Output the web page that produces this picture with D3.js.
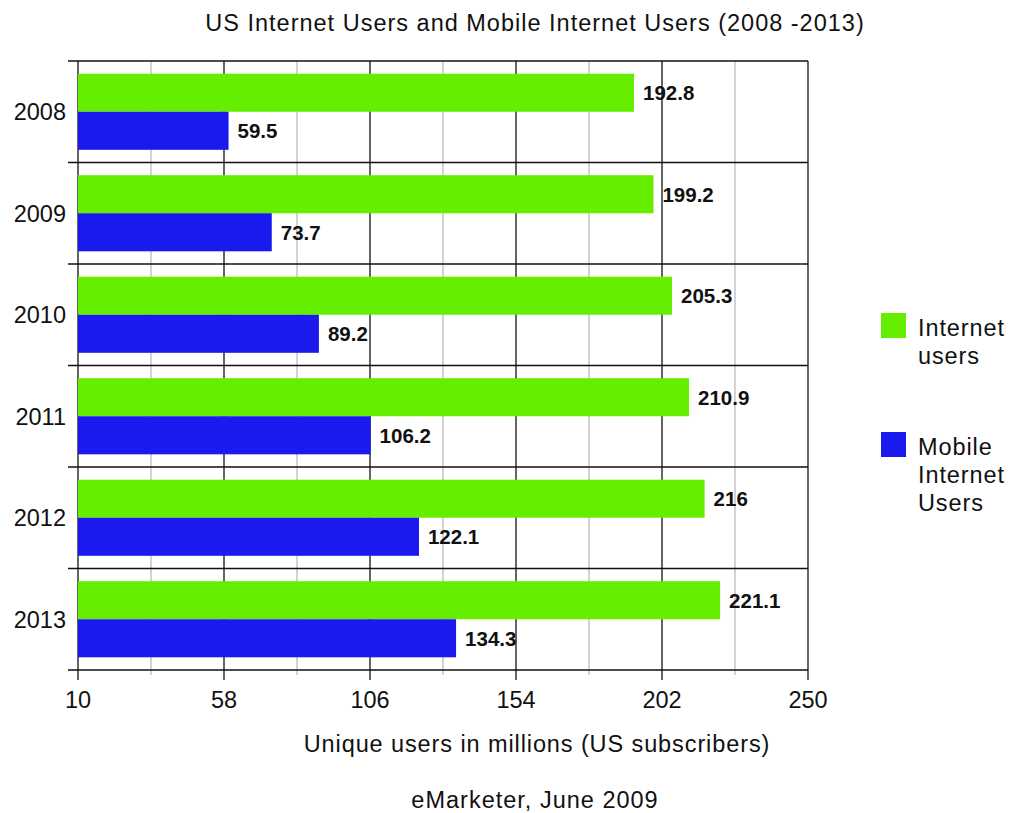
<!DOCTYPE html>
<html>
<head>
<meta charset="utf-8">
<script src="https://cdn.jsdelivr.net/npm/d3@7"></script>
<style>
  body { margin: 0; background: #fff; }
  text { font-family: "Liberation Sans", Arial, sans-serif; fill: #111; }
</style>
</head>
<body>
<div id="container"></div>
<script>
// data
let years = ["2008", "2009", "2010", "2011", "2012", "2013"];
let internetUsers = [192.8, 199.2, 205.3, 210.9, 216, 221.1];
let mobileUsers = [59.5, 73.7, 89.2, 106.2, 122.1, 134.3];
let majorTicks = [10, 58, 106, 154, 202, 250];
let minorTicks = [34, 82, 130, 178, 226];
let seriesNames = ["Internet users", "Mobile Internet Users"];
let seriesColors = ["#66ee00", "#1a1aee"];

let width = 1010, height = 813;
let plotLeft = 78, plotRight = 808, plotTop = 61, plotBottom = 670;

let svg = d3.select('#container')
    .append('svg')
    .attr("width", width)
    .attr("height", height);

let x = d3.scaleLinear().domain([10, 250]).range([plotLeft, plotRight]);
let y = d3.scaleBand().domain(years).range([plotTop, plotBottom]).paddingInner(0.25).paddingOuter(0.125);
let sub = d3.scaleBand().domain([0, 1]).range([0, y.bandwidth()]);

let rows = years.map((yr, i) => ({year: yr, values: [internetUsers[i], mobileUsers[i]]}));

// minor grid lines
svg.selectAll('.minor')
    .data(minorTicks)
    .enter()
    .append('line')
    .attr('x1', d => x(d)).attr('x2', d => x(d))
    .attr('y1', plotTop).attr('y2', plotBottom + 5)
    .attr('stroke', '#bbb')
    .attr('stroke-width', 1.3);

// major grid lines
svg.selectAll('.major')
    .data(majorTicks)
    .enter()
    .append('line')
    .attr('x1', d => x(d)).attr('x2', d => x(d))
    .attr('y1', plotTop).attr('y2', plotBottom + 10)
    .attr('stroke', '#111')
    .attr('stroke-width', 1.3);

// category separators
let step = y.step();
let seps = years.map(yr => y(yr) - y.paddingOuter() * step);
seps.push(plotBottom);
svg.selectAll('.sep')
    .data(seps)
    .enter()
    .append('line')
    .attr('x1', plotLeft - 10).attr('x2', plotRight)
    .attr('y1', d => d).attr('y2', d => d)
    .attr('stroke', '#111')
    .attr('stroke-width', 1.3);

// bars
let groups = svg.selectAll('.row')
    .data(rows)
    .enter()
    .append('g')
    .attr('transform', d => `translate(0,${y(d.year)})`);

groups.selectAll('rect')
    .data(d => d.values)
    .enter()
    .append('rect')
    .attr('x', x(10))
    .attr('y', (d, i) => sub(i))
    .attr('width', d => x(d) - x(10))
    .attr('height', sub.bandwidth())
    .attr('fill', (d, i) => seriesColors[i]);

groups.selectAll('.val')
    .data(d => d.values)
    .enter()
    .append('text')
    .attr('x', d => x(d) + 9)
    .attr('y', (d, i) => sub(i) + sub.bandwidth() / 2)
    .attr('dy', '0.36em')
    .attr('font-size', 20.5)
    .attr('font-weight', 'bold')
    .text(d => d);

// year labels
svg.selectAll('.yl')
    .data(years)
    .enter()
    .append('text')
    .attr('x', plotLeft - 12)
    .attr('y', d => y(d) + y.bandwidth() / 2)
    .attr('dy', '0.36em')
    .attr('text-anchor', 'end')
    .attr('font-size', 23.5)
    .text(d => d);

// x tick labels
svg.selectAll('.xl')
    .data(majorTicks)
    .enter()
    .append('text')
    .attr('x', d => x(d))
    .attr('y', 708)
    .attr('text-anchor', 'middle')
    .attr('font-size', 23.5)
    .text(d => d);

svg.append('text')
    .attr('x', 537).attr('y', 752)
    .attr('text-anchor', 'middle')
    .attr('font-size', 23.5)
    .attr('letter-spacing', 0.9)
    .text('Unique users in millions (US subscribers)');

svg.append('text')
    .attr('x', 535).attr('y', 808)
    .attr('text-anchor', 'middle')
    .attr('font-size', 23.5)
    .attr('letter-spacing', 1)
    .text('eMarketer, June 2009');

svg.append('text')
    .attr('x', 535).attr('y', 31)
    .attr('text-anchor', 'middle')
    .attr('font-size', 23.5)
    .attr('letter-spacing', 1)
    .text('US Internet Users and Mobile Internet Users (2008 -2013)');

// legend
let legendLines = [["Internet", "users"], ["Mobile", "Internet", "Users"]];
let legendY = [313, 432];
let legend = svg.selectAll('.leg')
    .data(legendLines)
    .enter()
    .append('g')
    .attr('transform', (d, i) => `translate(881,${legendY[i]})`);

legend.append('rect')
    .attr('width', 25).attr('height', 25)
    .attr('fill', (d, i) => seriesColors[i]);

legend.selectAll('text')
    .data(d => d)
    .enter()
    .append('text')
    .attr('x', 37)
    .attr('y', (d, i) => 23 + i * 28)
    .attr('font-size', 23.5)
    .attr('letter-spacing', 0.9)
    .text(d => d);
</script>
</body>
</html>
